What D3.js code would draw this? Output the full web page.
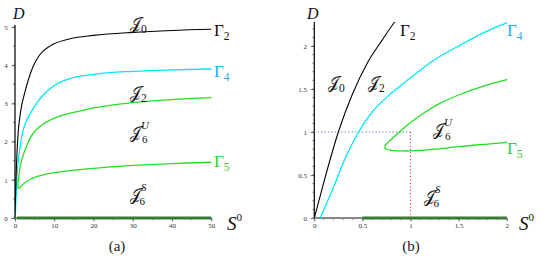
<!DOCTYPE html>
<html><head><meta charset="utf-8">
<script src="https://cdn.jsdelivr.net/npm/d3@7"></script>
<style>body{margin:0;background:#fff}svg{display:block}</style>
</head><body>
<svg id="c" width="552" height="266"></svg>
<script>
// ---- data (S0, D) ----
const blackGamma2 = [[0,0],[0.1,0.42],[0.25,1.0],[0.4,1.45],[0.55,1.8],[0.7,2.06],[0.83,2.27],[1.2,2.62],[1.7,2.95],[2.54,3.3],[3.4,3.62],[4.66,3.98],[6.36,4.28],[8.9,4.5],[14,4.69],[20,4.78],[30,4.86],[40,4.91],[50,4.94]];
const cyanGamma4 = [[0.06,0],[0.1,0.1],[0.2,0.36],[0.3,0.64],[0.46,1.0],[0.6,1.23],[0.8,1.45],[1.0,1.63],[1.25,1.84],[1.5,2.0],[1.75,2.15],[2,2.27],[2.54,2.45],[3.8,2.72],[5.5,3.0],[7.2,3.22],[9.75,3.45],[14,3.65],[20,3.76],[30,3.84],[40,3.88],[50,3.9]];
const greenGamma5 = [[50,3.15],[40,3.1],[30,3.02],[20,2.88],[16.5,2.8],[13.1,2.72],[8.9,2.56],[6.4,2.4],[4.66,2.22],[3.4,1.99],[2.54,1.78],[2,1.61],[1.75,1.53],[1.5,1.43],[1.3,1.33],[1.15,1.23],[1.0,1.11],[0.9,1.015],[0.82,0.935],[0.77,0.885],[0.74,0.845],[0.735,0.82],[0.75,0.8],[0.8,0.787],[0.9,0.78],[1.0,0.78],[1.25,0.8],[1.5,0.83],[1.75,0.855],[2,0.88],[3,0.96],[4,1.02],[5,1.065],[7.2,1.13],[10,1.185],[14,1.24],[20,1.3],[30,1.375],[40,1.425],[50,1.46]];
const washoutStart = [0.5];          // thick D=0 segment starts at S0=0.5
const refPoint = [1, 1];             // dotted guides in (b)
const ticksAX = [0,10,20,30,40,50];
const ticksAY = [0,1,2,3,4,5];
const ticksBX = [0,0.5,1,1.5,2];
const ticksBY = [0,0.5,1,1.5,2];

const svg = d3.select('#c');
const serif = "'Liberation Serif','DejaVu Serif',serif";
const C = {black:'#000', cyan:'#00e8f4', green:'#22e022', dgreen:'#357a35', lab4:'#1aaeea', lab5:'#2fd02f'};

function panel(o){
  const x = d3.scaleLinear().domain(o.xd).range(o.xr);
  const y = d3.scaleLinear().domain(o.yd).range(o.yr);
  const g = svg.append('g');
  const id = 'clip'+o.name;
  svg.append('defs').append('clipPath').attr('id',id).append('rect')
    .attr('x',o.xr[0]).attr('y',y(o.ytop)).attr('width',o.xr[1]-o.xr[0]+0.5).attr('height',y(0)-y(o.ytop)+1);
  const minX = d3.range(o.xd[0], o.xd[1]+1e-9, o.mx), minY = d3.range(0, o.ytop, o.my);
  g.selectAll('.mx').data(minX).join('line').attr('x1',d=>x(d)).attr('x2',d=>x(d)).attr('y1',y(0)).attr('y2',y(0)+2).attr('stroke','#555').attr('stroke-width',0.7);
  g.selectAll('.my').data(minY).join('line').attr('x1',x(0)-2).attr('x2',x(0)).attr('y1',d=>y(d)).attr('y2',d=>y(d)).attr('stroke','#555').attr('stroke-width',0.7);
  const ax = g.append('g').attr('transform',`translate(0,${y(0)})`).call(d3.axisBottom(x).tickValues(o.tx).tickSize(3.5).tickFormat(d3.format('')));
  const ay = g.append('g').attr('transform',`translate(${x(0)},0)`).call(d3.axisLeft(y).tickValues(o.ty).tickSize(3.5).tickFormat(d3.format('')));
  [ax,ay].forEach(a=>{a.select('.domain').remove(); a.selectAll('line').attr('stroke','#444').attr('stroke-width',0.8);
    a.selectAll('text').attr('font-family',serif).attr('font-size',7).attr('fill','#333');});
  ax.selectAll('text').attr('dy','0.5em');
  ay.selectAll('text').attr('dx','-0.1em');
  g.append('line').attr('x1',x(0)).attr('x2',x(0)).attr('y1',y(0)).attr('y2',y(o.ytop)).attr('stroke','#111').attr('stroke-width',1.3);
  g.append('line').attr('x1',x(0)).attr('x2',x(o.xd[1])).attr('y1',y(0)).attr('y2',y(0)).attr('stroke','#888').attr('stroke-width',2);
  g.append('line').attr('x1',x(washoutStart[0])).attr('x2',x(o.xd[1])).attr('y1',y(0)).attr('y2',y(0)).attr('stroke',C.dgreen).attr('stroke-width',3);
  if(o.guides){
    g.append('line').attr('x1',x(0)).attr('x2',x(refPoint[0])).attr('y1',y(refPoint[1])).attr('y2',y(refPoint[1])).attr('stroke','#6a6ad0').attr('stroke-width',1.1).attr('stroke-dasharray','1.2,2.2');
    g.append('line').attr('x1',x(refPoint[0])).attr('x2',x(refPoint[0])).attr('y1',y(0)).attr('y2',y(refPoint[1])).attr('stroke','#c84848').attr('stroke-width',1.1).attr('stroke-dasharray','1.2,2.2');
  }
  const cl = g.append('g').attr('clip-path',`url(#${id})`);
  const lm = d3.line().x(d=>x(d[0])).y(d=>y(d[1])).curve(d3.curveMonotoneX);
  const lc = d3.line().x(d=>x(d[0])).y(d=>y(d[1])).curve(d3.curveCatmullRom.alpha(0.5));
  cl.append('path').attr('d',lc(greenGamma5)).attr('fill','none').attr('stroke',C.green).attr('stroke-width',1.3);
  cl.append('path').attr('d',lm(cyanGamma4)).attr('fill','none').attr('stroke',C.cyan).attr('stroke-width',1.3);
  cl.append('path').attr('d',lm(blackGamma2)).attr('fill','none').attr('stroke',C.black).attr('stroke-width',1.1);
}

panel({name:'a', xd:[0,50], xr:[15,211.3], yd:[0,5], yr:[218,27], ytop:5.05, tx:ticksAX, ty:ticksAY, mx:5, my:0.5});
panel({name:'b', xd:[0,2], xr:[314.3,506.7], yd:[0,2], yr:[218,46], ytop:2.28, tx:ticksBX, ty:ticksBY, mx:0.1, my:0.1, guides:true});

function lab(x,y,main,sub,sup,color,opt={}){
  const t = svg.append('text').attr('x',x).attr('y',y).attr('font-family',serif).attr('fill',color||'#111').attr('font-size',opt.fs||17);
  const m = t.append('tspan').text(main);
  if(opt.italic) m.attr('font-style','italic');
  if(opt.mfs) m.attr('font-size',opt.mfs);
  if(sup!=null){ const s=t.append('tspan').attr('font-size',11).attr('dy',-9).text(sup); if(opt.supItalic) s.attr('font-style','italic'); }
  if(sub!=null){
    if(sup!=null) t.append('tspan').attr('font-size',11).attr('dx',-7).attr('dy',14).text(sub);
    else t.append('tspan').attr('font-size',11.5).attr('dy',4).text(sub);
  }
}
const J = '\u{1D4A5}';
const jo = {mfs:16};
lab(130,29,J,'0',null,null,jo);
lab(214,36,'Γ','2');
lab(214,77,'Γ','4',null,C.lab4);
lab(130,98,J,'2',null,null,jo);
lab(130,138,J,'6','U',null,{supItalic:true,mfs:16});
lab(214,167,'Γ','5',null,C.lab5);
lab(130,200,J,'6','S',null,{supItalic:true,mfs:16});
lab(13,19,'D',null,null,'#111',{italic:true,fs:16});
lab(227,230,'S',null,'0','#111',{italic:true,fs:19});
svg.append('text').attr('x',117).attr('y',251).attr('text-anchor','middle').attr('font-family',serif).attr('font-size',15).attr('fill','#222').text('(a)');
lab(400,36,'Γ','2');
lab(507,36,'Γ','4',null,C.lab4);
lab(328,88,J,'0',null,null,jo);
lab(368,88,J,'2',null,null,jo);
lab(433,135,J,'6','U',null,{supItalic:true,mfs:16});
lab(507,154,'Γ','5',null,C.lab5);
lab(424,202,J,'6','S',null,{supItalic:true,mfs:16});
lab(307,19,'D',null,null,'#111',{italic:true,fs:16});
lab(519,230,'S',null,'0','#111',{italic:true,fs:19});
svg.append('text').attr('x',411).attr('y',251).attr('text-anchor','middle').attr('font-family',serif).attr('font-size',15).attr('fill','#222').text('(b)');
</script>
</body></html>
